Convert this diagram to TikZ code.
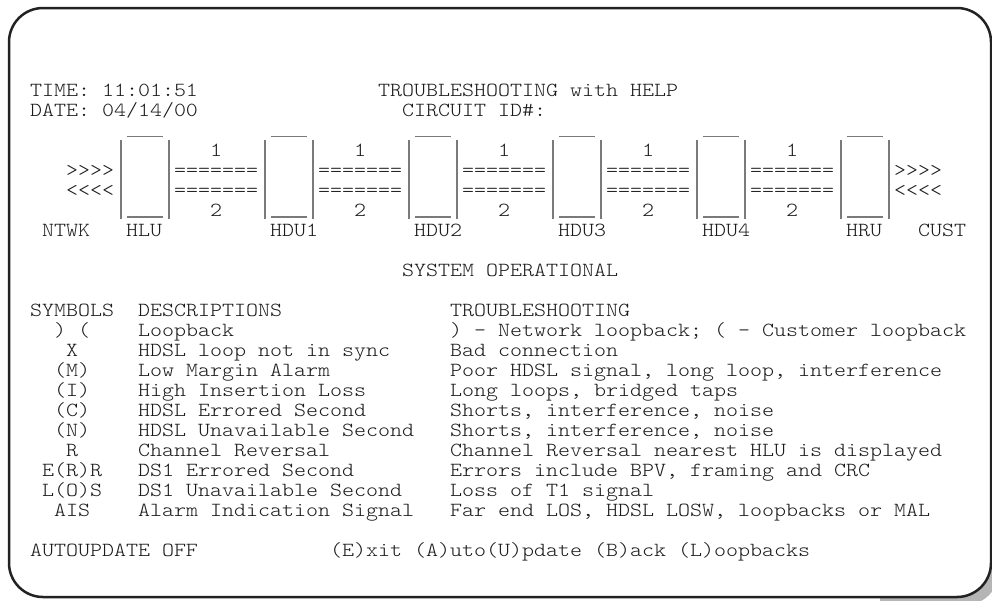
\documentclass[tikz,border=0pt]{standalone}
\usepackage{fontspec}
\setmonofont{Latin Modern Mono Light}[FakeStretch=1.1428571]
\definecolor{ink}{HTML}{1A1A1A}
\definecolor{barc}{HTML}{7A7A7A}
\definecolor{framec}{HTML}{222222}
\definecolor{shadowc}{HTML}{B5B5B5}
\tikzset{
  txt/.style={anchor=base west, inner sep=0pt, outer sep=0pt, text=ink,
              font=\ttfamily\fontsize{20}{20}\selectfont},
  unitbar/.style={draw=barc, line width=1.3pt},
  frame/.style={line width=2.5pt, draw=framec, fill=white, rounded corners=34pt},
}
\begin{document}
\begin{tikzpicture}[x=1pt,y=-1pt]
\useasboundingbox (0,0) rectangle (992,600);
% shadow and frame
\begin{scope}
  \clip (880,440) rectangle (992,600);
  \fill[shadowc, rounded corners=34pt] (15,14) rectangle (999,605);
\end{scope}
\draw[frame] (9,8) rectangle (991,597);

% header
\node[txt] (time)  at (30+12*0, 96)  {TIME: 11:01:51};
\node[txt] (title) at (30+12*29, 96) {TROUBLESHOOTING with HELP};
\node[txt] (date)  at (30+12*0, 116) {DATE: 04/14/00};
\node[txt] (circ)  at (30+12*31, 116) {CIRCUIT ID\#:};

% unit boxes
\foreach \c [count=\i] in {7,19,31,43,55,67}{
  \coordinate (bl\i) at (30+12*\c+7, 139.5);
  \coordinate (br\i) at (30+12*\c+48+7, 139.5);
  \draw[unitbar] (bl\i) -- ++(0,79);
  \draw[unitbar] (br\i) -- ++(0,79);
  \draw[unitbar] (30+12*\c+12.5, 136.5) -- (30+12*\c+48.5, 136.5);
  \draw[unitbar] (30+12*\c+12.5, 217) -- (30+12*\c+48.5, 217);
}
% links between boxes
\foreach \c [count=\i] in {12,24,36,48,60}{
  \node[txt] (one\i) at (30+12*\c+36, 156) {1};
  \node[txt] (upl\i) at (30+12*\c, 176) {=======};
  \node[txt] (dnl\i) at (30+12*\c, 196) {=======};
  \node[txt] (two\i) at (30+12*\c+36, 216) {2};
}
\node[txt] (inL)  at (30+12*3, 176)  {>>>>};
\node[txt] (outL) at (30+12*3, 196)  {<<<<};
\node[txt] (inR)  at (30+12*72, 176) {>>>>};
\node[txt] (outR) at (30+12*72, 196) {<<<<};

% unit labels
\node[txt] (ntwk) at (30+12*1, 236)  {NTWK};
\node[txt] (hlu)  at (30+12*8, 236)  {HLU};
\node[txt] (hdu1) at (30+12*20, 236) {HDU1};
\node[txt] (hdu2) at (30+12*32, 236) {HDU2};
\node[txt] (hdu3) at (30+12*44, 236) {HDU3};
\node[txt] (hdu4) at (30+12*56, 236) {HDU4};
\node[txt] (hru)  at (30+12*68, 236) {HRU};
\node[txt] (cust) at (30+12*74, 236) {CUST};

\node[txt] (status) at (30+12*31, 276) {SYSTEM OPERATIONAL};

% legend
\node[txt] (hsym)  at (30+12*0, 316)  {SYMBOLS};
\node[txt] (hdesc) at (30+12*9, 316)  {DESCRIPTIONS};
\node[txt] (htrb)  at (30+12*35, 316) {TROUBLESHOOTING};

\foreach \r/\sc/\s/\d/\t in {
  1/2/{) (}/{Loopback}/{) - Network loopback; ( - Customer loopback},
  2/3/{X}/{HDSL loop not in sync}/{Bad connection},
  3/2/{(M)}/{Low Margin Alarm}/{Poor HDSL signal, long loop, interference},
  4/2/{(I)}/{High Insertion Loss}/{Long loops, bridged taps},
  5/2/{(C)}/{HDSL Errored Second}/{Shorts, interference, noise},
  6/2/{(N)}/{HDSL Unavailable Second}/{Shorts, interference, noise},
  7/3/{R}/{Channel Reversal}/{Channel Reversal nearest HLU is displayed},
  8/1/{E(R)R}/{DS1 Errored Second}/{Errors include BPV, framing and CRC},
  9/1/{L(O)S}/{DS1 Unavailable Second}/{Loss of T1 signal},
  10/2/{AIS}/{Alarm Indication Signal}/{Far end LOS, HDSL LOSW, loopbacks or MAL}}{
  \node[txt] (sym\r)  at (30+12*\sc, 316+20*\r) {\s};
  \node[txt] (desc\r) at (30+12*9, 316+20*\r)   {\d};
  \node[txt] (trb\r)  at (30+12*35, 316+20*\r)  {\t};
}

% footer
\node[txt] (auto) at (30+12*0, 556)  {AUTOUPDATE OFF};
\node[txt] (menu) at (30+12*25, 556) {(E)xit (A)uto(U)pdate (B)ack (L)oopbacks};
\end{tikzpicture}
\end{document}
